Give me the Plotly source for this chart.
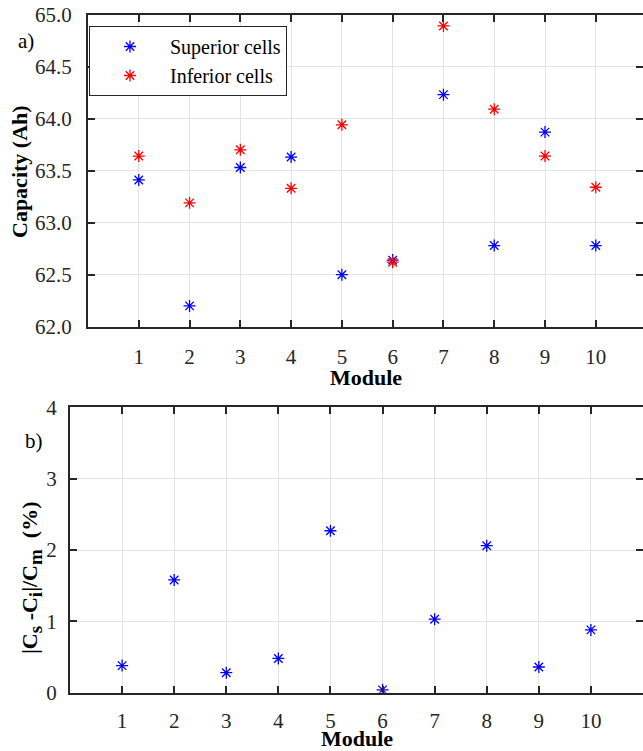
import plotly.graph_objects as go

modules = [1, 2, 3, 4, 5, 6, 7, 8, 9, 10]
superior_cells = [63.41, 62.20, 63.53, 63.63, 62.50, 62.64, 64.23, 62.78, 63.87, 62.78]
inferior_cells = [63.64, 63.19, 63.70, 63.33, 63.94, 62.62, 64.89, 64.09, 63.64, 63.34]
rel_diff = [0.38, 1.58, 0.28, 0.48, 2.27, 0.04, 1.03, 2.06, 0.36, 0.88]

cap_ticks = [62.0, 62.5, 63.0, 63.5, 64.0, 64.5, 65.0]
cap_ticklabels = ["62.0", "62.5", "63.0", "63.5", "64.0", "64.5", "65.0"]
diff_ticks = [0, 1, 2, 3, 4]

W, H = 643, 751
FONT = "Liberation Serif"
AX = "#262626"
GRID = "#e3e3e3"

fig = go.Figure()

mk = dict(symbol="asterisk-open", size=10)
fig.add_trace(go.Scatter(x=modules, y=superior_cells, mode="markers", name="Superior cells",
                         marker=dict(**mk, color="#0000ff", line=dict(color="#0000ff", width=1.3)),
                         xaxis="x", yaxis="y"))
fig.add_trace(go.Scatter(x=modules, y=inferior_cells, mode="markers", name="Inferior cells",
                         marker=dict(**mk, color="#ff0000", line=dict(color="#ff0000", width=1.3)),
                         xaxis="x", yaxis="y"))
fig.add_trace(go.Scatter(x=modules, y=rel_diff, mode="markers", showlegend=False,
                         marker=dict(**mk, color="#0000ff", line=dict(color="#0000ff", width=1.3)),
                         xaxis="x2", yaxis="y2"))

def px_x(p):
    return p / W

def px_y(p):
    return 1 - p / H

common_axis = dict(showline=True, linecolor=AX, linewidth=2, mirror="ticks",
                   ticks="inside", ticklen=7, tickwidth=2, tickcolor=AX,
                   showgrid=True, gridcolor=GRID, gridwidth=1, zeroline=False,
                   automargin=False, ticklabeloverflow="allow",
                   tickfont=dict(family=FONT, size=21, color=AX))

fig.update_layout(
    width=W, height=H,
    margin=dict(l=0, r=0, t=0, b=0, autoexpand=False),
    paper_bgcolor="white", plot_bgcolor="white",
    font=dict(family=FONT, size=21, color="black"),
    xaxis=dict(domain=[px_x(88), 1], range=[0, 10.93], tickvals=modules,
               anchor="y", ticklabelstandoff=10, **common_axis),
    yaxis=dict(domain=[px_y(326.7), px_y(14.5)], range=[62, 65], tickvals=cap_ticks,
               ticktext=cap_ticklabels, anchor="x", ticklabelstandoff=10, **common_axis),
    xaxis2=dict(domain=[px_x(70), 1], range=[0, 11], tickvals=modules,
                anchor="y2", ticklabelstandoff=8, **common_axis),
    yaxis2=dict(domain=[px_y(692.7), px_y(407.3)], range=[0, 4], tickvals=diff_ticks,
                anchor="x2", ticklabelstandoff=7, **common_axis),
    legend=dict(x=px_x(89), y=px_y(26), xanchor="left", yanchor="top",
                bgcolor="white", bordercolor=AX, borderwidth=1,
                itemwidth=70, font=dict(family=FONT, size=20, color="black"),
                tracegroupgap=0),
    showlegend=True,
)

title_font = dict(family=FONT, size=22, color="black")
ann_font = dict(family=FONT, size=21, color="black")
sub = '<sub><span style="font-size:19px">{}</span></sub>'
diff_label = ("<b>|C" + sub.format("s") + " -C" + sub.format("i") + "|/C"
              + sub.format("m") + "  (%)</b>")

fig.add_annotation(text="<b>Capacity (Ah)</b>", textangle=-90, xref="paper", yref="paper",
                   x=px_x(19), y=px_y(172), xanchor="center", yanchor="middle",
                   showarrow=False, font=title_font)
fig.add_annotation(text=diff_label, textangle=-90,
                   xref="paper", yref="paper",
                   x=px_x(31), y=px_y(578), xanchor="center", yanchor="middle",
                   showarrow=False, font=title_font)
fig.add_annotation(text="<b>Module</b>", xref="paper", yref="paper", x=px_x(365.5), y=px_y(377),
                   xanchor="center", yanchor="middle", showarrow=False, font=title_font)
fig.add_annotation(text="<b>Module</b>", xref="paper", yref="paper", x=px_x(356.5), y=px_y(738.5),
                   xanchor="center", yanchor="middle", showarrow=False, font=title_font)
fig.add_annotation(text="a)", xref="paper", yref="paper", x=px_x(26), y=px_y(41),
                   xanchor="center", yanchor="middle", showarrow=False, font=ann_font)
fig.add_annotation(text="b)", xref="paper", yref="paper", x=px_x(34), y=px_y(441),
                   xanchor="center", yanchor="middle", showarrow=False, font=ann_font)

fig.write_html("out.html", config={"displayModeBar": False},
               post_script="document.body.style.margin='0px';")
